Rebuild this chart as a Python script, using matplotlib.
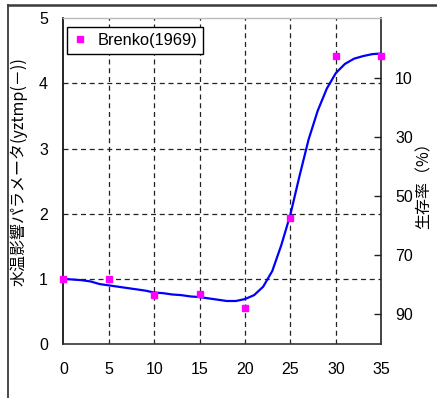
import matplotlib
matplotlib.use("Agg")
import matplotlib.pyplot as plt
from matplotlib.lines import Line2D

plt.rcParams['font.family'] = ['Liberation Sans', 'Noto Sans CJK JP', 'DejaVu Sans']

# Observed data (Brenko 1969)
obs_x = [0, 5, 10, 15, 20, 25, 30, 35]
obs_y = [1.00, 1.00, 0.75, 0.77, 0.56, 1.94, 4.42, 4.42]

# Fitted curve
curve_x = list(range(0, 36))
curve_y = [1.00, 0.99, 0.98, 0.96, 0.92, 0.90, 0.88, 0.86, 0.84, 0.82,
           0.79, 0.78, 0.76, 0.75, 0.73, 0.72, 0.70, 0.68, 0.66, 0.66,
           0.69, 0.75, 0.88, 1.12, 1.52, 1.99, 2.58, 3.14, 3.58, 3.92,
           4.16, 4.30, 4.38, 4.42, 4.45, 4.46]

x_ticks = [0, 5, 10, 15, 20, 25, 30, 35]
y_ticks = [0, 1, 2, 3, 4, 5]
right_ticks = [10, 30, 50, 70, 90]

legend_label = "Brenko(1969)"
left_label = "水温影響パラメータ(yztmp(－))"
right_label = "生存率（%）"

fig = plt.figure(figsize=(4.37, 3.98), dpi=100)
ax = fig.add_axes([0.1449, 0.1357, 0.7276, 0.8183])

ax.plot(curve_x, curve_y, color='#0000FF', lw=1.6, zorder=3)
ax.plot(obs_x, obs_y, linestyle='none', marker='s', markersize=4.3,
        color='#FF00FF', mec='#FF00FF', zorder=4, clip_on=False)

ax.set_xlim(0, 35)
ax.set_ylim(0, 5)
ax.set_xticks(x_ticks)
ax.set_yticks(y_ticks)
ax.tick_params(axis='both', length=0, labelsize=11.5)
ax.tick_params(axis='x', pad=13)
ax.tick_params(axis='y', pad=11)

for xv in x_ticks[1:-1]:
    ax.axvline(xv, color='#222222', lw=0.9, ls=(0, (4, 3)), zorder=1)
for yv in y_ticks[1:-1]:
    ax.axhline(yv, color='#222222', lw=0.9, ls=(0, (4, 3)), zorder=1)

ax.spines['left'].set_color('black')
ax.spines['left'].set_linewidth(1.2)
ax.spines['bottom'].set_color('#333333')
ax.spines['bottom'].set_linewidth(1.2)
ax.spines['top'].set_color('#bbbbbb')
ax.spines['top'].set_linewidth(1.0)
ax.spines['right'].set_color('#222222')
ax.spines['right'].set_linewidth(1.2)

ax.set_ylabel(left_label, family=['Noto Sans CJK JP', 'DejaVu Sans'], fontsize=11.5)
ax.yaxis.set_label_coords(-0.111, 0.528)

ax2 = ax.twinx()
ax2.set_ylim(100, -10)
ax2.set_yticks(right_ticks)
ax2.tick_params(axis='y', direction='in', length=5, width=1, color='#222222',
                labelsize=11.5, pad=10)
ax2.set_ylabel(right_label, family=['Noto Sans CJK JP', 'DejaVu Sans'], fontsize=11.5,
               rotation=90)
ax2.yaxis.set_label_coords(1.109, 0.5)
for s in ax2.spines.values():
    s.set_visible(False)

handle = Line2D([], [], linestyle='none', marker='s', markersize=4.3,
                color='#FF00FF', mec='#FF00FF')
leg = ax.legend([handle], [legend_label], loc='upper left',
                bbox_to_anchor=(0.0107, 0.974), borderaxespad=0,
                fontsize=11.8, frameon=True, fancybox=False, framealpha=1,
                edgecolor='black', borderpad=0.38, handlelength=0.9,
                handletextpad=0.6)
leg.get_frame().set_linewidth(1.0)
leg.set_zorder(5)

# Outer frame (left and top edges visible)
fig.add_artist(Line2D([7.5/437, 7.5/437], [0, 1 - 4.5/398], color='#3a3a3a',
                      lw=1.3, transform=fig.transFigure))
fig.add_artist(Line2D([7.5/437, 1], [1 - 4.5/398, 1 - 4.5/398], color='#3a3a3a',
                      lw=1.8, transform=fig.transFigure))

fig.savefig("out.png", dpi=100)
